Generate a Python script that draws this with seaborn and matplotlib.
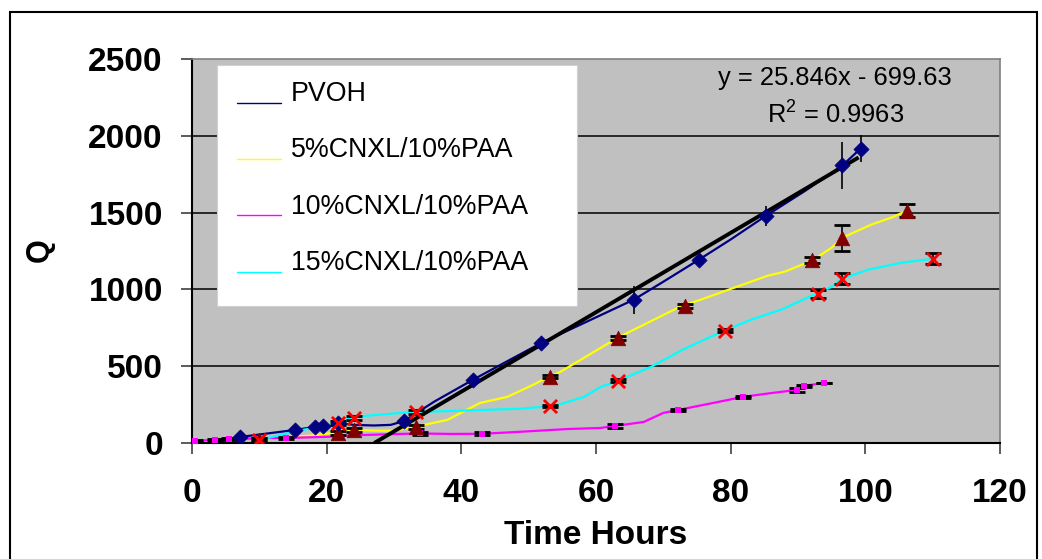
import matplotlib
matplotlib.use("Agg")
import matplotlib.pyplot as plt
import matplotlib.patches as mpatches
from matplotlib.lines import Line2D
from matplotlib.legend_handler import HandlerLine2D
import seaborn as sns
import pandas as pd

# ---------------- data ----------------
labels = ["PVOH", "5%CNXL/10%PAA", "10%CNXL/10%PAA", "15%CNXL/10%PAA"]

# smoothed connecting lines
pvoh_line_x = [7.1, 15.3, 18.2, 19.4, 21.7, 24, 27, 29.5, 31.5, 36, 41.7, 46, 51.9, 58, 65.6, 70, 75.3, 80, 85.3, 91, 96.6, 99.3]
pvoh_line_y = [39, 85, 104, 106, 130, 118, 114, 118, 143, 270, 411, 513, 652, 777, 933, 1050, 1194, 1325, 1481, 1640, 1807, 1917]

c5_line_x = [10, 14, 18, 21.7, 24, 28, 30, 32.9, 37.9, 42.8, 46.8, 50, 52.7, 54.7, 58.2, 63.2, 68, 72.6, 76, 80.5, 85.5, 88, 92.1, 95, 96.6, 100.9, 103.9, 106.2]
c5_line_y = [20, 35, 50, 70, 85, 80, 80, 104, 150, 261, 300, 365, 424, 463, 554, 685, 790, 890, 940, 1011, 1089, 1115, 1187, 1272, 1337, 1422, 1468, 1513]

c10_line_x = [0, 3.4, 5.5, 10, 14, 20, 24, 30, 33.9, 38.4, 43.1, 48.3, 55.8, 60.7, 62.8, 67.1, 70, 72.2, 78.1, 81.8, 86, 89.9, 90.9, 93.9]
c10_line_y = [13, 20, 26, 30, 33, 40, 50, 58, 62, 59, 60, 72, 91, 98, 111, 137, 196, 215, 267, 300, 325, 346, 372, 391]

c15_line_x = [10, 15.3, 21.7, 24, 28, 32.9, 38.4, 42.8, 48.3, 52.7, 54.8, 58.2, 60.7, 63.2, 68.2, 73, 79, 83, 87.5, 93, 95, 96.6, 100.4, 105.4, 110.1]
c15_line_y = [20, 75, 130, 170, 185, 202, 208, 215, 222, 238, 254, 300, 365, 404, 496, 610, 731, 802, 868, 978, 1017, 1070, 1128, 1174, 1200]

# averaged points with error bars
pvoh_pt_x = [7.1, 15.3, 18.2, 19.4, 21.7, 31.5, 41.7, 51.9, 65.6, 75.3, 85.3, 96.6, 99.3]
pvoh_pt_y = [39, 85, 104, 108, 130, 143, 411, 652, 933, 1194, 1481, 1807, 1917]
pvoh_pt_err = [5, 5, 5, 5, 10, 10, 10, 15, 90, 15, 65, 155, 90]

c5_pt_x = [10, 21.7, 24, 33.2, 53.1, 63.2, 73.2, 92.1, 96.6, 106.2]
c5_pt_y = [20, 65, 85, 104, 430, 685, 894, 1194, 1337, 1513]
c5_pt_err = [10, 12, 15, 10, 10, 12, 12, 20, 85, 40]

c10_pt_x = [0.4, 3.4, 5.5, 14, 33.9, 43.1, 62.8, 72.2, 81.8, 89.9, 90.9, 93.9]
c10_pt_y = [13, 20, 26, 33, 62, 60, 111, 215, 300, 346, 372, 391]
c10_pt_err = [5, 5, 5, 5, 10, 10, 15, 6, 8, 15, 8, 0]

c15_pt_x = [10, 21.7, 24, 33.2, 53.1, 63.2, 79.2, 93, 96.6, 110.1]
c15_pt_y = [20, 130, 163, 202, 241, 404, 731, 972, 1070, 1200]
c15_pt_err = [10, 10, 15, 12, 8, 10, 10, 25, 35, 35]

# linear trendline on PVOH
trend_slope = 25.846
trend_intercept = -699.63
trend_x_range = [27.07, 99.0]
eq_text = "y = 25.846x - 699.63"
r2_text = "R$^2$ = 0.9963"

x_ticks = [0, 20, 40, 60, 80, 100, 120]
y_ticks = [0, 500, 1000, 1500, 2000, 2500]

# ---------------- style ----------------
sns.set_style("white")
plt.rcParams["font.family"] = ["Liberation Sans", "DejaVu Sans"]
plt.rcParams["mathtext.default"] = "regular"
plt.rcParams["text.color"] = "black"
plt.rcParams["axes.labelcolor"] = "black"
plt.rcParams["xtick.color"] = "black"
plt.rcParams["ytick.color"] = "black"

W, H = 1042, 559
fig = plt.figure(figsize=(W / 100, H / 100), dpi=100)
fig.patch.set_facecolor("white")
L, R, T, B = 192, 1000, 59, 443
ax = fig.add_axes([L / W, 1 - B / H, (R - L) / W, (B - T) / H])
ax.set_facecolor("#C0C0C0")

line_colors = ["#000080", "#FFFF00", "#FF00FF", "#00FFFF"]

lines_df = pd.concat([
    pd.DataFrame({"x": pvoh_line_x, "y": pvoh_line_y, "s": labels[0]}),
    pd.DataFrame({"x": c5_line_x, "y": c5_line_y, "s": labels[1]}),
    pd.DataFrame({"x": c10_line_x, "y": c10_line_y, "s": labels[2]}),
    pd.DataFrame({"x": c15_line_x, "y": c15_line_y, "s": labels[3]}),
])
sns.lineplot(data=lines_df, x="x", y="y", hue="s", palette=dict(zip(labels, line_colors)),
             sort=False, estimator=None, linewidth=1.6, legend=False, ax=ax, zorder=3)

# trendline
tx = trend_x_range
ty = [trend_slope * v + trend_intercept for v in tx]
ax.plot(tx, ty, color="black", linewidth=2.8, zorder=4, solid_capstyle="butt")

# error bars
ax.errorbar(pvoh_pt_x, pvoh_pt_y, yerr=pvoh_pt_err, fmt="none", ecolor="black",
            elinewidth=1.2, capsize=0, zorder=5)
ax.errorbar(c5_pt_x, c5_pt_y, yerr=c5_pt_err, fmt="none", ecolor="black",
            elinewidth=1.2, capsize=6, capthick=2, zorder=5)
ax.errorbar(c10_pt_x, c10_pt_y, yerr=c10_pt_err, fmt="none", ecolor="black",
            elinewidth=1.2, capsize=6, capthick=2, zorder=5)
ax.errorbar(c15_pt_x, c15_pt_y, yerr=c15_pt_err, fmt="none", ecolor="black",
            elinewidth=1.2, capsize=6, capthick=2, zorder=5)

# markers
sns.scatterplot(x=c10_pt_x, y=c10_pt_y, marker="s", s=14, color="#FF00FF", edgecolor="#FF00FF",
                linewidth=0, ax=ax, zorder=6)
sns.scatterplot(x=c5_pt_x, y=c5_pt_y, marker="^", s=110, color="#800000", edgecolor="#800000",
                linewidth=0.5, ax=ax, zorder=6)
sns.scatterplot(x=pvoh_pt_x, y=pvoh_pt_y, marker="D", s=60, color="#000080", edgecolor="#000080",
                linewidth=0.5, ax=ax, zorder=7)
sns.scatterplot(x=c15_pt_x, y=c15_pt_y, marker="x", s=90, color="#FF0000",
                linewidth=2.0, ax=ax, zorder=8)

# axes
ax.set_xlim(0, 120)
ax.set_ylim(0, 2500)
ax.set_xticks(x_ticks)
ax.set_yticks(y_ticks)
ax.set_xticklabels([str(v) for v in x_ticks], fontsize=24, fontweight="bold", color="black")
ax.set_yticklabels([str(v) for v in y_ticks], fontsize=24, fontweight="bold", color="black")
ax.tick_params(axis="x", direction="out", length=8, width=1.2, color="#404040", pad=17, bottom=True)
ax.tick_params(axis="y", direction="out", length=8, width=1.2, color="#404040", pad=13, left=True)
for yv in y_ticks[1:-1]:
    ax.axhline(yv, color="black", linewidth=1.1, zorder=1)
for side in ["left", "bottom"]:
    ax.spines[side].set_color("black")
    ax.spines[side].set_linewidth(1.5)
for side in ["top", "right"]:
    ax.spines[side].set_color("#808080")
    ax.spines[side].set_linewidth(1.2)
    ax.spines[side].set_visible(True)

ax.set_xlabel("Time Hours", fontsize=24, fontweight="bold", color="black")
ax.set_ylabel("Q", fontsize=22, fontweight="bold", color="black")
ax.xaxis.label.set_va("center")
ax.xaxis.set_label_coords(0.5, (B - 535) / (B - T))
ax.yaxis.label.set_va("center")
ax.yaxis.set_label_coords((40 - L) / (R - L), (B - 250) / (B - T))

# legend box
ax.add_patch(mpatches.Rectangle(((217 - L) / (R - L), (B - 306) / (B - T)),
                                (577 - 217) / (R - L), (306 - 65) / (B - T),
                                transform=ax.transAxes, facecolor="white", edgecolor="#D0D0D0",
                                linewidth=0.8, zorder=9))


class LowHandler(HandlerLine2D):
    def create_artists(self, legend, orig_handle, xdescent, ydescent, width, height, fontsize, trans):
        arts = super().create_artists(legend, orig_handle, xdescent, ydescent, width, height,
                                      fontsize, trans)
        for a in arts:
            yd = a.get_ydata()
            a.set_ydata([v - height * 0.6 for v in yd])
        return arts


handles = [Line2D([0], [0], color=c, linewidth=1.0) for c in line_colors]
leg = ax.legend(handles, labels, loc="upper left", bbox_to_anchor=(237 / W, 1 - 81 / H),
                bbox_transform=fig.transFigure, frameon=False, fontsize=19.3, borderpad=0,
                handlelength=1.65, handletextpad=0.35, labelspacing=1.13, borderaxespad=0,
                handler_map={Line2D: LowHandler()})
leg.set_zorder(10)
for t in leg.get_texts():
    t.set_color("black")

# trendline annotation
ax.text((835 - L) / (R - L), (B - 78) / (B - T), eq_text, transform=ax.transAxes,
        ha="center", va="center", fontsize=18.4, color="black", zorder=10)
ax.text((836 - L) / (R - L), (B - 115) / (B - T), r2_text, transform=ax.transAxes,
        ha="center", va="center", fontsize=18.4, color="black", zorder=10)

# outer chart border
fig.patches.append(mpatches.Rectangle((10 / W, -0.05), (1037 - 10) / W, (H - 12) / H + 0.05,
                                      transform=fig.transFigure, fill=False, edgecolor="black",
                                      linewidth=1.5, clip_on=False))

fig.savefig("out.png", dpi=100)
